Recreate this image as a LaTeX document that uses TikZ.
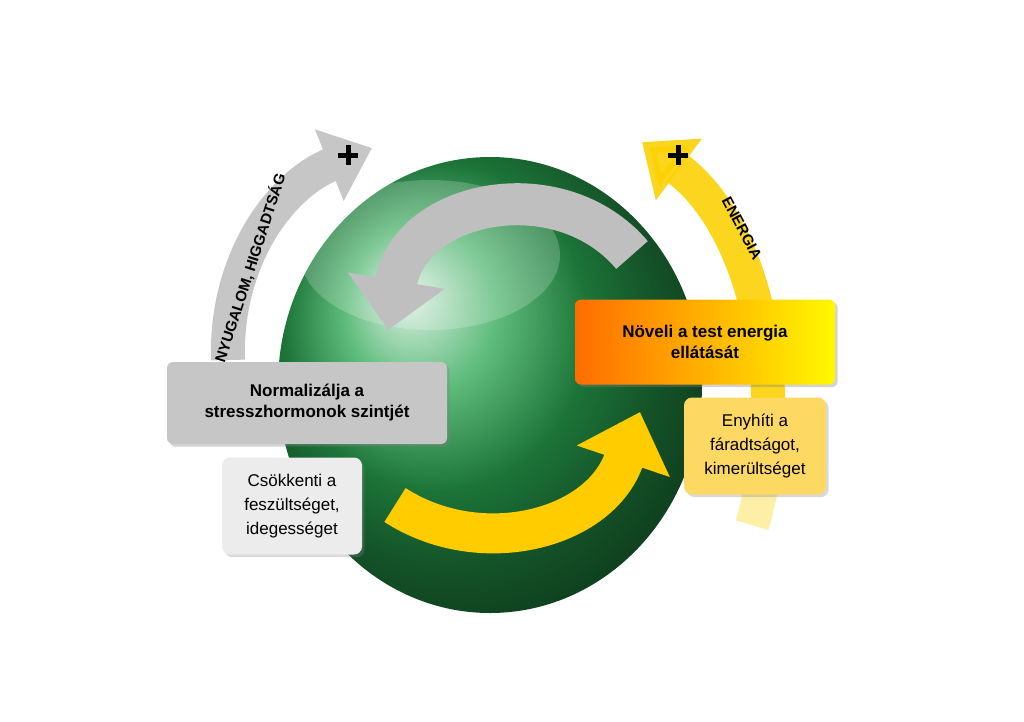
\documentclass[tikz,border=0pt]{standalone}
\usepackage{fontspec}
\setmainfont{Liberation Sans}
\usetikzlibrary{arrows.meta, positioning, shadows}
\definecolor{orbgreen}{RGB}{40,165,80}
\tikzset{
  box/.style={rounded corners=6pt, align=center, font=\fontsize{17}{21}\selectfont\bfseries, drop shadow={opacity=0.35}},
  sub/.style={rounded corners=8pt, align=center, font=\fontsize{17}{24}\selectfont, drop shadow={opacity=0.3}},
  band/.style={line width=34pt, -{Triangle[width=74pt,length=46pt]}},
  cross/.style={line width=5pt, black},
}
\begin{document}
\begin{tikzpicture}[x=1pt, y=-1pt]
\useasboundingbox (0,0) rectangle (1024,721);
% sphere
\shade[ball color=orbgreen] (490,385) ellipse [x radius=212, y radius=228];
\fill[white, opacity=0.2] (430,255) ellipse [x radius=130, y radius=75];
% outer arcs
\coordinate (g0) at (228,360);
\coordinate (g1) at (372,148);
\draw[band, gray!45] (g0) .. controls (225,260) and (280,185) .. (g1);
\coordinate (o0) at (752,525);
\coordinate (o1) at (642,142);
\draw[band, yellow!70!orange, opacity=0.9] (o0) .. controls (790,400) and (760,230) .. (o1);
\fill[white, opacity=0.6] (735,420) rectangle (790,530);
\node[rotate=72, font=\fontsize{15}{15}\selectfont\bfseries] (calm) at (250,268) {NYUGALOM, HIGGADTSÁG};
\node[rotate=-62, font=\fontsize{15}{15}\selectfont\bfseries] (energy) at (742,228) {ENERGIA};
% plus signs
\foreach \px/\py in {348/155, 678/155}
  \draw[cross] (\px-10,\py) -- (\px+10,\py) (\px,\py-10) -- (\px,\py+10);
% inner arrows
\coordinate (ig0) at (632,255);
\coordinate (ig1) at (388,330);
\draw[line width=42pt, gray!50, -{Triangle[width=95pt,length=50pt]}] (ig0) .. controls (560,170) and (410,200) .. (ig1);
\coordinate (io0) at (395,505);
\coordinate (io1) at (640,412);
\draw[line width=40pt, orange!40!yellow, -{Triangle[width=95pt,length=52pt]}] (io0) .. controls (480,560) and (600,530) .. (io1);
% boxes
\node[box, fill=gray!45, minimum width=280pt, minimum height=82pt] (norm) at (307,403) {Normalizálja a\\stresszhormonok szintjét};
\node[sub, fill=gray!15, minimum width=140pt, minimum height=97pt] (calmtxt) at (292,506) {Csökkenti a\\feszültséget,\\idegességet};
\node[box, left color=orange!85!red, right color=yellow!95!orange, minimum width=260pt, minimum height=85pt] (boost) at (705,342) {Növeli a test energia\\ellátását};
\node[sub, fill=yellow!55!orange!60, minimum width=142pt, minimum height=97pt] (tired) at (755,446) {Enyhíti a\\fáradtságot,\\kimerültséget};
\end{tikzpicture}
\end{document}
